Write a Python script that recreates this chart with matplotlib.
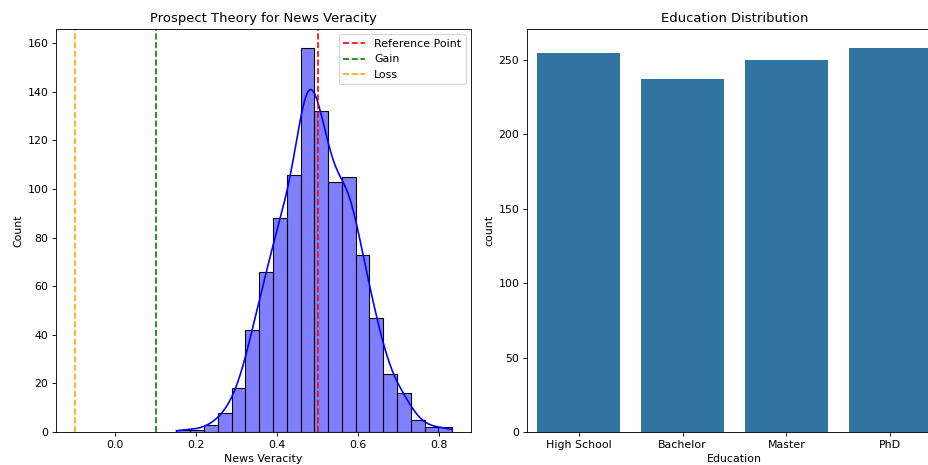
import matplotlib
matplotlib.use("Agg")
import matplotlib.pyplot as plt
import seaborn as sns
import numpy as np

# histogram of news veracity (20 bins)
veracity_min = 0.151
veracity_max = 0.832
veracity_counts = [1, 1, 3, 8, 18, 42, 66, 88, 106, 158,
                   132, 103, 105, 73, 47, 24, 16, 5, 2, 2]

# prospect theory markers
reference_point = 0.5
gain_point = 0.1
loss_point = -0.1

# education distribution
education_levels = ["High School", "Bachelor", "Master", "PhD"]
education_counts = [255, 237, 250, 258]

DPI = 79.0


def main():
    n_bins = len(veracity_counts)
    edges = np.linspace(veracity_min, veracity_max, n_bins + 1)
    centers = (edges[:-1] + edges[1:]) / 2
    # one value per counted item, placed at its bin centre
    veracity = np.repeat(centers, veracity_counts)

    fig = plt.figure(figsize=(928 / DPI, 465 / DPI), dpi=DPI)
    ax1 = fig.add_axes([56 / 928, 1 - 432 / 465, 415 / 928, 403 / 465])
    ax2 = fig.add_axes([527 / 928, 1 - 432 / 465, 415 / 928, 403 / 465])

    # Left: histogram with kde
    sns.histplot(x=veracity, bins=n_bins, binrange=(veracity_min, veracity_max),
                 kde=True, kde_kws={"cut": 3, "clip": (veracity_min, veracity_max)},
                 color="blue", alpha=0.5, ax=ax1)
    ax1.axvline(reference_point, color="red", linestyle="--", label="Reference Point")
    ax1.axvline(gain_point, color="green", linestyle="--", label="Gain")
    ax1.axvline(loss_point, color="orange", linestyle="--", label="Loss")
    ax1.set_title("Prospect Theory for News Veracity")
    ax1.set_xlabel("News Veracity")
    ax1.set_ylabel("Count")
    ax1.legend(loc="upper right")

    # Right: education bars
    sns.barplot(x=education_levels, y=education_counts, ax=ax2)
    ax2.set_title("Education Distribution")
    ax2.set_xlabel("Education")
    ax2.set_ylabel("count")

    fig.savefig("out.png", dpi=DPI)


if __name__ == '__main__':
    main()
